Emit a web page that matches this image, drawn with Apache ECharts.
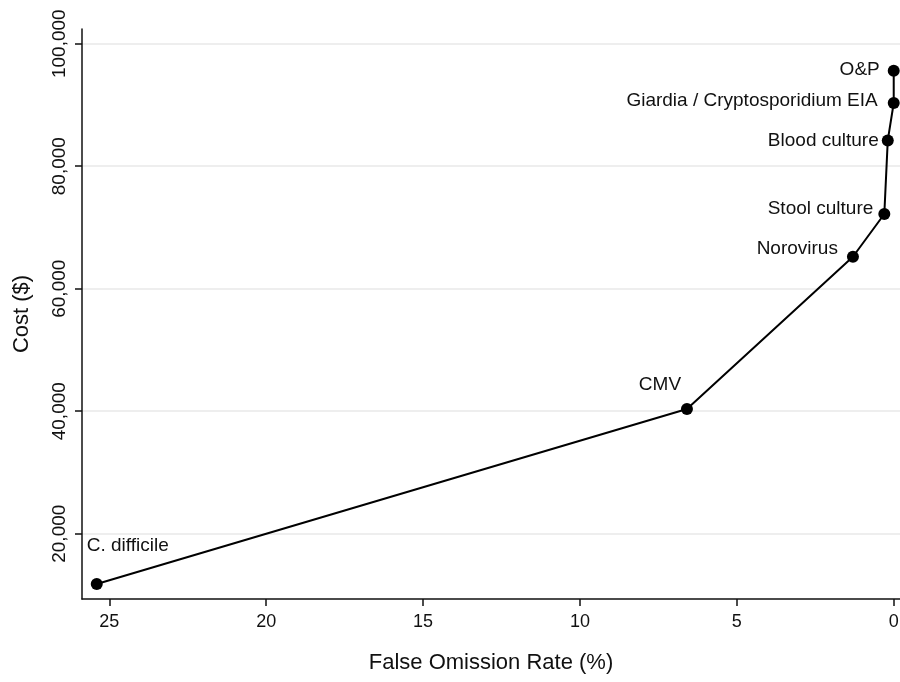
<!DOCTYPE html>
<html>
<head>
<meta charset="utf-8">
<script src="https://cdn.jsdelivr.net/npm/echarts@6/dist/echarts.min.js"></script>
<style>
  html, body { margin: 0; padding: 0; background: #fff; }
  #chart { width: 900px; height: 682px; }
</style>
</head>
<body>
<div id="chart"></div>
<script>
// tests along the cost / false omission frontier
const tests = ['C. difficile', 'CMV', 'Norovirus', 'Stool culture', 'Blood culture', 'Giardia / Cryptosporidium EIA', 'O&P'];
const falseOmission = [25.4, 6.59, 1.30, 0.30, 0.19, 0.0, 0.0];
const cost = [11800, 40360, 65220, 72200, 84210, 90320, 95590];
const xTicks = [0, 5, 10, 15, 20, 25];
const yTicks = [20000, 40000, 60000, 80000, 100000];

// label placement per test (style only)
const labelStyle = {
  'C. difficile': { align: 'left', offset: [-10, -38] },
  'CMV': { align: 'center', offset: [-27, -24] },
  'Norovirus': { align: 'right', offset: [-15, -8] },
  'Stool culture': { align: 'right', offset: [-11, -5] },
  'Blood culture': { align: 'right', offset: [-9, 0] },
  'Giardia / Cryptosporidium EIA': { align: 'right', offset: [-16, -2] },
  'O&P': { align: 'right', offset: [-14, -1] }
};

const font = 'Helvetica, "Liberation Sans", Arial, sans-serif';
const chart = echarts.init(document.getElementById('chart'));

const seriesData = tests.map(function (name, i) {
  const ls = labelStyle[name];
  return {
    name: name,
    value: [falseOmission[i], cost[i]],
    label: { show: true, position: 'inside', align: ls.align, offset: ls.offset, formatter: name }
  };
});

chart.setOption({
  animation: false,
  grid: { left: 82, right: 0, top: 29, bottom: 83, outerBoundsMode: 'none' },
  xAxis: {
    type: 'value',
    inverse: true,
    min: -0.2,
    max: 25.87,
    name: 'False Omission Rate (%)',
    nameLocation: 'middle',
    nameGap: 53,
    nameTextStyle: { fontFamily: font, fontSize: 22, color: '#111' },
    axisLine: { show: true, onZero: false, lineStyle: { color: '#111', width: 1.5 } },
    axisTick: { show: true, length: 7, customValues: xTicks, lineStyle: { color: '#111', width: 1.5 } },
    axisLabel: { customValues: xTicks, fontFamily: font, fontSize: 18, color: '#111', margin: 14 },
    splitLine: { show: false }
  },
  yAxis: {
    type: 'value',
    min: 9340,
    max: 102400,
    name: 'Cost ($)',
    nameLocation: 'middle',
    nameGap: 49,
    nameTextStyle: { fontFamily: font, fontSize: 22, color: '#111' },
    axisLine: { show: true, onZero: false, lineStyle: { color: '#111', width: 1.5 } },
    axisTick: { show: true, length: 7, customValues: yTicks, lineStyle: { color: '#111', width: 1.5 } },
    axisLabel: {
      customValues: yTicks,
      rotate: 90,
      fontFamily: font,
      fontSize: 19,
      color: '#111',
      margin: 13,
      formatter: function (v) { return v.toLocaleString('en-US'); }
    },
    splitLine: { show: true, lineStyle: { color: '#e8e8e8', width: 1.5 } }
  },
  series: [{
    type: 'line',
    data: seriesData,
    symbol: 'circle',
    symbolSize: 12,
    itemStyle: { color: '#000' },
    lineStyle: { color: '#000', width: 2 },
    label: { fontFamily: font, fontSize: 19, color: '#111' },
    z: 3
  }]
});
</script>
</body>
</html>
